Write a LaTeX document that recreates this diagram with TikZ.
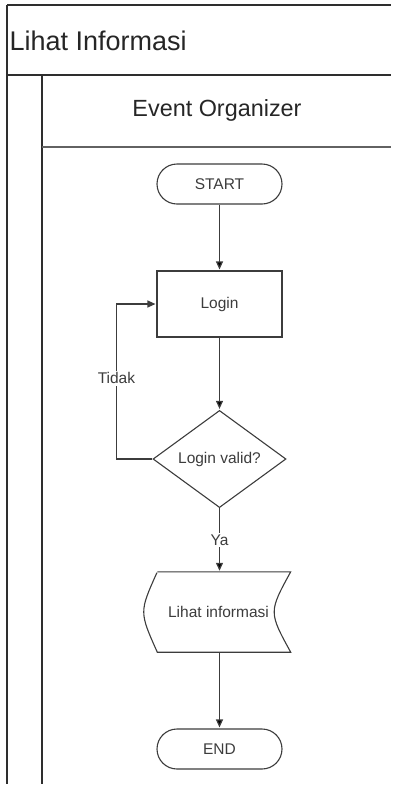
\documentclass[tikz,border=0pt]{standalone}
\usepackage{fontspec}
\setmainfont{Liberation Sans}
\usetikzlibrary{positioning,shapes.geometric,arrows.meta}
\definecolor{ink}{HTML}{3C3C3C}
\definecolor{lane}{HTML}{2E2E2E}

\begin{document}
\begin{tikzpicture}[x=1pt, y=-1pt, shorten >=1pt, on grid,
  >={Triangle[length=8pt,width=7pt]},
  every node/.style={font=\fontsize{15.5}{18}\selectfont, text=ink},
  terminal/.style={draw=ink, line width=1.1pt, rounded corners=20pt, minimum width=125pt, minimum height=40pt},
  process/.style={draw=ink, line width=1.1pt, minimum width=125pt, minimum height=66pt},
  decision/.style={draw=ink, line width=1.1pt, diamond, minimum width=133pt, minimum height=92pt, inner sep=0pt},
  iobox/.style={minimum width=142pt, minimum height=80pt, inner sep=0pt},
  label/.style={fill=white, inner sep=1.5pt}]
\useasboundingbox (0,0) rectangle (392,785);
% swimlane
\draw[lane, line width=2pt] (7,5) -- (392,5);
\draw[lane, line width=1.5pt] (7,5) -- (7,785);
\draw[lane, line width=2.4pt] (7,75) -- (392,75);
\draw[lane, line width=2.4pt] (42,75) -- (42,785);
\draw[lane!75, line width=1.5pt] (42,147) -- (392,147);
\node[anchor=west, font=\fontsize{27}{32}\selectfont, text=black!85] (pool) at (6,41) {Lihat Informasi};
\node[font=\fontsize{23.4}{28}\selectfont, text=black!85] (lane1) at (217,110) {Event Organizer};
% flow
\node[terminal] (start) at (219.5,184) {START};
\node[process] (login) [below=120pt of start] {Login};
\node[decision] (check) [below=155pt of login] {Login valid?};
\node[iobox] (show) [below=153pt of check] {Lihat informasi\hspace*{2pt}};
\node[terminal] (end) [below=137pt of show] {END};
\draw[ink, line width=1.1pt] ([xshift=9pt]show.north west) -- (show.north east)
  .. controls ([xshift=-22pt]show.east) .. (show.south east)
  -- ([xshift=9pt]show.south west)
  .. controls ([xshift=-9pt]show.west) .. ([xshift=9pt]show.north west);
\coordinate (back) at ([xshift=-40pt]login.west);
\path[->, draw=ink, line width=1.2pt]
(start) edge (login)
(login) edge (check)
(check) edge node[label] {Ya} (show)
(show) edge (end);
\draw[->, ink, line width=1.2pt] (check.west) -| node[label, pos=0.76] {Tidak} (back) -- (login.west);
\end{tikzpicture}
\end{document}
